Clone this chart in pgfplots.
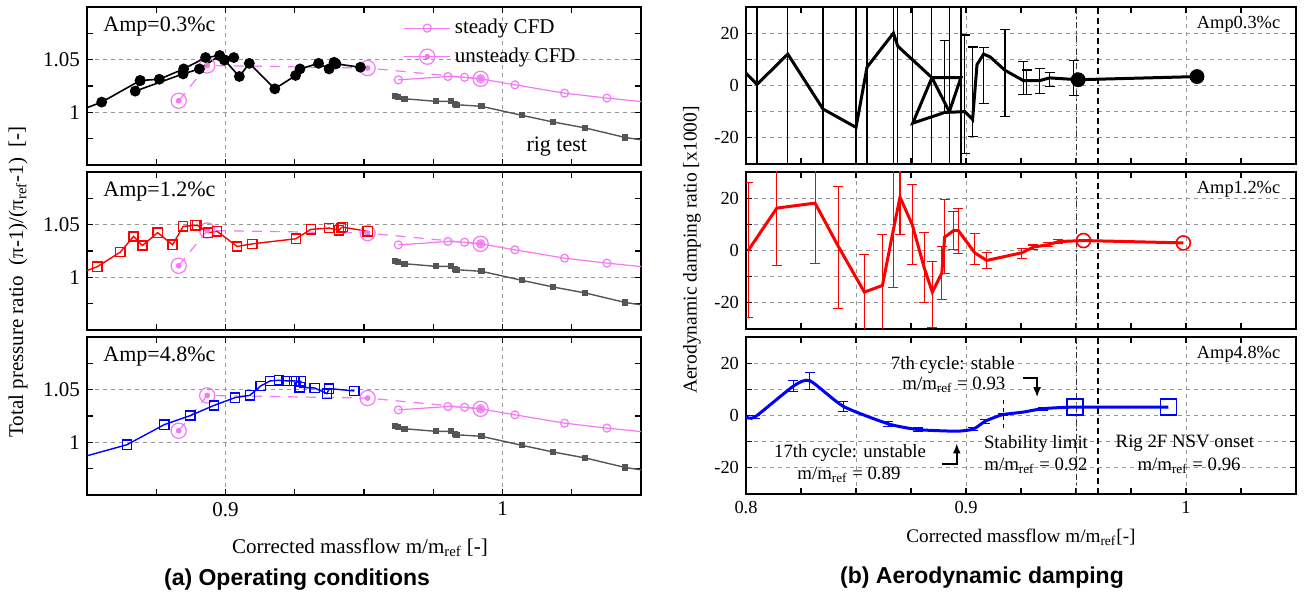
\documentclass[border=0pt]{standalone}
\usepackage{fontspec}
\setmainfont{Liberation Serif}
\newfontfamily\capfont{Liberation Sans}
\usepackage{pgfplots}
\pgfplotsset{compat=1.18}
\usetikzlibrary{arrows.meta}

\definecolor{cfd}{RGB}{245,120,245}
\definecolor{rig}{RGB}{85,85,85}
\definecolor{gridc}{RGB}{150,150,150}

\pgfdeclareplotmark{ocdot}{%
  \pgfpathcircle{\pgfpointorigin}{\pgfplotmarksize}\pgfusepathqstroke
  \pgfpathcircle{\pgfpointorigin}{0.3\pgfplotmarksize}\pgfusepathqfillstroke}

\newcommand\fA{\fontsize{10.5}{12}\selectfont}
\newcommand\fB{\fontsize{9.2}{11}\selectfont}
\newcommand\fC{\fontsize{9.4}{11}\selectfont}

\pgfplotsset{
  common/.style={scale only axis, clip=true, tick align=inside,
    major tick length=3pt, minor tick length=3pt,
    every tick/.style={black, line width=0.6pt},
    axis line style={line width=0.8pt},
    grid=major,
    major grid style={gridc, line width=0.4pt, dash pattern=on 2pt off 2pt},
    xticklabels={}},
  lbase/.style={common, width=277pt, height=79pt,
    xmin=0.85, xmax=1.05, ymin=0.95, ymax=1.1,
    xtick={0.9,1}, minor xtick={0.875,0.925,0.95,0.975,1.025},
    ytick={1,1.05}, yticklabels={1,1.05}, minor ytick={0.975,1.025,1.075},
    ticklabel style={font=\fA}},
  rbase/.style={common, width=275pt, height=78.5pt,
    xmin=0.8, xmax=1.05, ymin=-30, ymax=30,
    xtick={0.8,0.85,0.9,0.95,1,1.05}, minor xtick={0.825,0.875,0.925,0.975,1.025},
    ytick={-20,-10,0,10,20}, yticklabels={-20,,0,,20},
    ticklabel style={font=\fB}},
  cfdsteady/.style={cfd, line width=0.6pt, mark=o, mark size=2pt},
  cfdunsteady/.style={cfd, line width=0.6pt, dash pattern=on 5pt off 4pt, mark=ocdot, mark size=3.8pt, mark options={solid, fill=cfd}},
  rigstyle/.style={rig, line width=0.7pt, mark=square*, mark size=1.2pt},
  ebar/.style={mark=none, draw opacity=0, error bars/.cd, y dir=both, y explicit,
    error bar style={draw opacity=1, line width=0.55pt, solid},
    error mark options={rotate=90, draw opacity=1, line width=0.55pt, mark size=2.5pt}},
}

\newcommand\cfdplots[1]{%
  \addplot[rigstyle, forget plot] coordinates {(0.9612,1.0154) (0.9624,1.0148) (0.9646,1.0129) (0.9761,1.0104) (0.9815,1.0104) (0.9828,1.0082) (0.9834,1.0072) (0.9924,1.0057) (1.0069,0.9972) (1.0181,0.9909) (1.0298,0.9852) (1.0443,0.9761) (1.06,0.9700)};
  \addplot[cfdsteady, #1] coordinates {(0.9624,1.0308) (0.9803,1.0340) (0.9863,1.0333) (0.9921,1.0318) (1.0045,1.0261) (1.0224,1.0182) (1.0377,1.0135) (1.06,1.0075)};
  \addplot[cfdunsteady, #1] coordinates {(0.8831,1.0110) (0.8934,1.0445) (0.9513,1.0420) (0.9921,1.0318)};
}

\newcommand\reflines{%
\draw[black!80, line width=0.4pt, dash pattern=on 3pt off 1.5pt on 0.8pt off 1.5pt] (axis cs:0.95,-30) -- (axis cs:0.95,30);
\draw[black, line width=0.9pt, dash pattern=on 3pt off 2pt] (axis cs:0.96,-30) -- (axis cs:0.96,30);
}

\begin{document}
\begin{tikzpicture}
\useasboundingbox (0,0) rectangle (652pt,301.5pt);

% ---------------- (a) top
\begin{axis}[lbase, at={(43.5pt,298pt)}, anchor=north west,
  legend style={draw=none, fill=none, at={(0.56,0.975)}, anchor=north west, font=\fA, row sep=1.5pt},
  legend cell align=left,
  legend image code/.code={\draw[mark repeat=2,mark phase=2,#1,solid] plot coordinates {(0pt,0pt) (11.5pt,0pt) (23pt,0pt)};}]
\cfdplots{}
\addlegendentry{steady CFD}
\addlegendentry{unsteady CFD}
\addplot[black, line width=0.8pt, mark=*, mark size=2.3pt, forget plot] coordinates {(0.845,0.9994) (0.8553,1.0097) (0.8692,1.0302) (0.8674,1.0201) (0.8847,1.0365) (0.8906,1.0412) (0.8979,1.0538) (0.8996,1.0497) (0.905,1.0340) (0.9086,1.0465) (0.9178,1.0223) (0.9253,1.0350) (0.9269,1.0412) (0.9336,1.0465) (0.9374,1.0412) (0.9392,1.0475) (0.9399,1.0460) (0.9487,1.0428)};
\addplot[black, line width=0.8pt, mark=*, mark size=2.3pt, forget plot] coordinates {(0.8692,1.0302) (0.8761,1.0314) (0.8849,1.0412) (0.8928,1.0520) (0.8979,1.0538) (0.9030,1.0520) (0.8996,1.0497)};
\node[anchor=north west, inner sep=0pt, font=\fontsize{11}{13}\selectfont] at (rel axis cs:0.029,0.94) {Amp=0.3\%c};
\node[font=\fontsize{11}{13}\selectfont] at (axis cs:1.0196,0.967) {rig test};
\end{axis}

% ---------------- (a) middle
\begin{axis}[lbase, at={(43.5pt,215.5pt)}, anchor=north west]
\cfdplots{forget plot}
\addplot[red, line width=0.7pt, mark=square, mark size=2.3pt] coordinates {(0.845,1.0013) (0.8537,1.0101) (0.862,1.0239) (0.8668,1.0388) (0.87,1.0302) (0.8755,1.0424) (0.8809,1.0309) (0.8847,1.0484) (0.8891,1.0493) (0.8897,1.0497) (0.8937,1.0424) (0.897,1.0436) (0.9042,1.0293) (0.9097,1.0318) (0.9254,1.0366) (0.9308,1.0455) (0.9374,1.0468) (0.941,1.0446) (0.9417,1.0468) (0.9423,1.0477) (0.9513,1.0436)};
\node[anchor=north west, inner sep=0pt, font=\fontsize{11}{13}\selectfont] at (rel axis cs:0.029,0.94) {Amp=1.2\%c};
\end{axis}

% ---------------- (a) bottom
\begin{axis}[lbase, at={(43.5pt,133pt)}, anchor=north west, xticklabels={0.9,1}]
\cfdplots{forget plot}
\addplot[blue, line width=0.7pt, mark=square, mark size=2.3pt] coordinates {(0.845,0.9836) (0.8644,0.9977) (0.8779,1.0168) (0.8873,1.0254) (0.8958,1.0350) (0.9034,1.0424) (0.9088,1.0446) (0.9127,1.0535) (0.9161,1.0583) (0.9193,1.0589) (0.9221,1.0583) (0.9248,1.0583) (0.9272,1.0580) (0.9268,1.0522) (0.9322,1.0516) (0.9366,1.0462) (0.9374,1.0510) (0.9465,1.0488)};
\node[anchor=north west, inner sep=0pt, font=\fontsize{11}{13}\selectfont] at (rel axis cs:0.029,0.94) {Amp=4.8\%c};
\end{axis}

% ---------------- (b) top
\begin{axis}[rbase, at={(373pt,298pt)}, anchor=north west]
\reflines
\addplot[black, ebar] table[x=x, y=y, y error plus=ep, y error minus=em] {
x y ep em
0.805 0.4 100 100
0.819 12 100 100
0.835 -9 100 100
0.850 -16 100 100
0.855 7 100 100
0.867 20 100 100
0.869 15 100 100
0.8845 3 100 100
0.8924 -10 100 100
0.8977 3 100 100
0.8758 -14.4 100 100
0.8903 -10.3 27.6 0.5
0.8995 -10 29.3 16
0.903 -13 27.7 6.6
0.908 12 2.5 19
0.9177 5.8 15.7 17.8
0.926 1.9 7.3 5.4
0.9275 1.9 4 5.5
0.9336 1.9 4.6 4.9
0.938 2.9 2 3.4
0.949 2.2 7.4 6
};
\addplot[black, line width=1.5pt] coordinates {(0.7985,6) (0.805,0.4) (0.819,12) (0.835,-9) (0.850,-16) (0.855,7) (0.867,20) (0.869,15) (0.8845,3) (0.8924,-10) (0.8977,3) (0.8845,3) (0.8758,-14.4) (0.8903,-10.3) (0.8995,-10) (0.903,-13) (0.905,8) (0.908,12) (0.911,10.9) (0.9177,5.8) (0.926,1.9) (0.9336,1.9) (0.938,2.9) (0.951,2.2) (1.005,3.4)};
\addplot[only marks, black, mark=*, mark size=3.5pt] coordinates {(0.951,2.2) (1.005,3.4)};
\node[anchor=north east, inner sep=0pt, font=\fB] at (rel axis cs:0.972,0.945) {Amp0.3\%c};
\end{axis}

% ---------------- (b) middle
\begin{axis}[rbase, at={(373pt,215.5pt)}, anchor=north west]
\reflines
\addplot[red, ebar] table[x=x, y=y, y error plus=ep, y error minus=em] {
x y ep em
0.801 0 26 25.5
0.814 16.2 100 22
0.8314 18.1 100 23.2
0.842 1.5 23 23.8
0.8538 -15.9 14.2 100
0.862 -13.4 19.5 100
0.867 8 100 22.3
0.870 20.4 100 14.4
0.8756 9.8 15.3 15.3
0.881 -6.6 13.4 13.4
0.8847 -15.9 11.8 13.4
0.889 -8.6 10.1 10.1
0.8903 5.1 14.4 14
0.8943 7.6 7.4 7.2
0.8965 7.6 8.6 8.9
0.904 -0.9 7.3 4.5
0.9094 -3.8 2.9 3
0.9253 -0.9 1.5 2.3
0.9306 1.3 0.8 0.8
0.9374 2.2 0.8 0.8
0.942 3.4 0.8 0.8
};
\addplot[red, line width=1.5pt] coordinates {(0.801,0) (0.814,16.2) (0.8314,18.1) (0.842,1.5) (0.8538,-15.9) (0.862,-13.4) (0.867,8) (0.870,20.4) (0.8756,9.8) (0.881,-6.6) (0.8847,-15.9) (0.889,-8.6) (0.8903,5.1) (0.8943,7.6) (0.8965,7.6) (0.904,-0.9) (0.9094,-3.8) (0.9253,-0.9) (0.9306,1.3) (0.9374,2.2) (0.942,3.4) (0.9534,3.8) (0.9988,2.9)};
\addplot[only marks, red, mark=o, mark size=3.5pt, line width=0.8pt] coordinates {(0.9534,3.8) (0.9988,2.9)};
\node[anchor=north east, inner sep=0pt, font=\fB] at (rel axis cs:0.972,0.945) {Amp1.2\%c};
\end{axis}

% ---------------- (b) bottom
\begin{axis}[rbase, at={(373pt,133pt)}, anchor=north west, xticklabels={0.8,,0.9,,1,}]
\reflines
\draw[black, line width=0.5pt, dash pattern=on 2pt off 2pt] (axis cs:0.917,6) -- (axis cs:0.917,-6);
\addplot[blue, ebar] table[x=x, y=y, y error plus=ep, y error minus=em] {
x y ep em
0.804 -0.6 0.7 0.7
0.8215 11.2 2.3 2.2
0.829 13.3 3.1 3.4
0.8442 3.5 1.9 2
0.8647 -3.2 1 1
0.8783 -5.4 0.6 0.6
0.9033 -5.2 0.5 0.5
0.9087 -2.2 0.8 0.8
0.917 0.4 0.5 0.5
0.935 2.6 0.5 0.5
};
\addplot[blue, line width=1.5pt, smooth, tension=0.35] coordinates {(0.8,-0.5) (0.804,-0.6) (0.8215,11.2) (0.829,13.3) (0.8442,3.5) (0.8647,-3.2) (0.8783,-5.4) (0.8958,-6) (0.9033,-5.2) (0.9087,-2.2) (0.914,-0.4) (0.917,0.4) (0.926,1.3) (0.935,2.6) (0.9495,3.2) (0.992,3.2)};
\addplot[only marks, blue, mark=square, mark size=4pt, line width=0.8pt] coordinates {(0.9495,3.2) (0.992,3.2)};
\node[anchor=north east, inner sep=0pt, font=\fB] at (rel axis cs:0.972,0.945) {Amp4.8\%c};
\node[font=\fC] at (axis cs:0.894,19.4) {7th cycle: stable};
\node[font=\fC] at (axis cs:0.8945,11.6) {m/m\textsubscript{ref} = 0.93};
\draw[-{Latex[length=5pt,width=4pt]}, line width=0.8pt] (axis cs:0.9259,14.3) -- (axis cs:0.9323,14.3) -- (axis cs:0.9323,7);
\node[font=\fC] at (axis cs:0.8473,-14.3) {17th cycle: unstable};
\node[font=\fC] at (axis cs:0.8468,-22.5) {m/m\textsubscript{ref} = 0.89};
\draw[-{Latex[length=5pt,width=4pt]}, line width=0.8pt] (axis cs:0.889,-18.5) -- (axis cs:0.8958,-18.5) -- (axis cs:0.8958,-10.7);
\node[font=\fC] at (axis cs:0.9318,-10.8) {Stability limit};
\node[font=\fC] at (axis cs:0.9318,-19.4) {m/m\textsubscript{ref} = 0.92};
\node[font=\fC] at (axis cs:0.9995,-10.5) {Rig 2F NSV onset};
\node[font=\fC] at (axis cs:1.0014,-19.4) {m/m\textsubscript{ref} = 0.96};
\end{axis}

% ---------------- outer labels
\node[rotate=90, font=\fA] at (9pt,160.5pt) {Total pressure ratio \ (π-1)/(π\textsubscript{ref}-1) \ [-]};
\node[font=\fA] at (180pt,27.5pt) {Corrected massflow m/m\textsubscript{ref} [-]};
\node[rotate=90, font=\fontsize{9.8}{11}\selectfont] at (346pt,176.5pt) {Aerodynamic damping ratio [x1000]};
\node[font=\fontsize{9.6}{11}\selectfont] at (510.5pt,33pt) {Corrected massflow m/m\textsubscript{ref}[-]};
\node[font=\capfont\bfseries\fontsize{11.5}{13}\selectfont] at (148.5pt,11.5pt) {(a) Operating conditions};
\node[font=\capfont\bfseries\fontsize{11.5}{13}\selectfont] at (491pt,12.5pt) {(b) Aerodynamic damping};
\end{tikzpicture}
\end{document}
